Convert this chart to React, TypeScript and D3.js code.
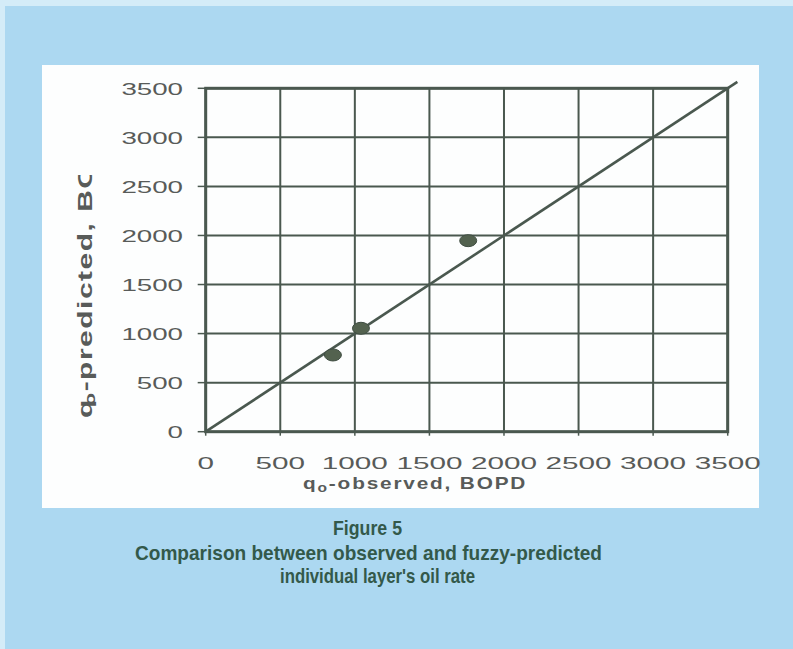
import * as d3 from "d3";

// observed vs predicted oil rate (BOPD)
const observed = [853, 1041, 1760];
const predicted = [782, 1054, 1947];
const tickValues = [0, 500, 1000, 1500, 2000, 2500, 3000, 3500];
const captionLines = [
  "Figure 5",
  "Comparison between observed and fuzzy-predicted",
  "individual layer's oil rate",
];

const W = 793;
const H = 649;
const ink = "#4a584f";
const tickInk = "#585b59";
const captionInk = "#33594a";

export default function App() {
  const x = d3.scaleLinear().domain([0, 3500]).range([205.7, 727.7]);
  const y = d3.scaleLinear().domain([0, 3500]).range([431.7, 88.3]);
  const diag = d3.line<number>().x(d => x(d)).y(d => y(d));

  return (
    <svg width={W} height={H} style={{ position: "absolute", left: 0, top: 0 }}>
      <defs>
        <clipPath id="ylab">
          <rect x={0} y={175} width={140} height={300} />
        </clipPath>
      </defs>
      <rect x={0} y={0} width={W} height={H} fill="#acd8f1" />
      <rect x={0} y={0} width={W} height={6} fill="#d4ecf8" />
      <rect x={0} y={0} width={5} height={H} fill="#d4ecf8" />
      <rect x={42} y={65} width={717} height={443} fill="#fdfefe" />

      {/* grid */}
      {tickValues.map(t => (
        <g key={"g" + t}>
          <line x1={x(t)} x2={x(t)} y1={y(0)} y2={y(3500)} stroke={ink} strokeWidth={2} />
          <line x1={x(0)} x2={x(3500)} y1={y(t)} y2={y(t)} stroke={ink} strokeWidth={2} />
          <line x1={x(0) - 8} x2={x(0)} y1={y(t)} y2={y(t)} stroke={ink} strokeWidth={1.5} />
          <line x1={x(t)} x2={x(t)} y1={y(0)} y2={y(0) + 4} stroke={ink} strokeWidth={1.5} />
        </g>
      ))}
      <rect x={x(0)} y={y(3500)} width={x(3500) - x(0)} height={y(0) - y(3500)}
        fill="none" stroke={ink} strokeWidth={3} />

      {/* 45 degree line */}
      <path d={diag([0, 3565]) ?? ""} stroke={ink} strokeWidth={2.6} fill="none" />

      {/* points */}
      {observed.map((o, i) => (
        <ellipse key={"p" + i} cx={x(o)} cy={y(predicted[i])} rx={8.5} ry={6}
          fill="#53624f" stroke="#3f4d42" strokeWidth={1} />
      ))}

      {/* tick labels */}
      <g fontFamily="Liberation Sans, Arial, sans-serif" fontSize={17} fill={tickInk}>
        {tickValues.map(t => (
          <text key={"y" + t} x={183} y={y(t) + 6.5} textAnchor="end"
            textLength={String(t).length * 15.4} lengthAdjust="spacingAndGlyphs">{t}</text>
        ))}
        {tickValues.map(t => (
          <text key={"x" + t} x={x(t)} y={469} textAnchor="middle"
            textLength={String(t).length * 16.5} lengthAdjust="spacingAndGlyphs">{t}</text>
        ))}
      </g>

      {/* axis titles */}
      <g fontFamily="Liberation Sans, Arial, sans-serif" fontWeight="bold" fill={tickInk}>
        <text transform="translate(303,489) scale(1.3,1.0)" fontSize={16} letterSpacing={1.4}>
          q<tspan fontSize={12} dy={3}>o</tspan><tspan dy={-3}>-observed, BOPD</tspan>
        </text>
        <g clipPath="url(#ylab)">
          <text transform="translate(92,418) rotate(-90) scale(1.5,1.05)" fontSize={20} letterSpacing={1}>
            q<tspan fontSize={14} dy={3} dx={-5}>o</tspan><tspan dy={-3}>-predicted, BOPD</tspan>
          </text>
        </g>
      </g>

      {/* caption */}
      <g fontFamily="Liberation Sans, Arial, sans-serif" fontWeight="bold" fill={captionInk} fontSize={21}>
        <text x={367.5} y={535} textAnchor="middle" textLength={69} lengthAdjust="spacingAndGlyphs">{captionLines[0]}</text>
        <text x={368.5} y={560} textAnchor="middle" textLength={467} lengthAdjust="spacingAndGlyphs">{captionLines[1]}</text>
        <text x={377.5} y={583} textAnchor="middle" textLength={195} lengthAdjust="spacingAndGlyphs">{captionLines[2]}</text>
      </g>
    </svg>
  );
}
